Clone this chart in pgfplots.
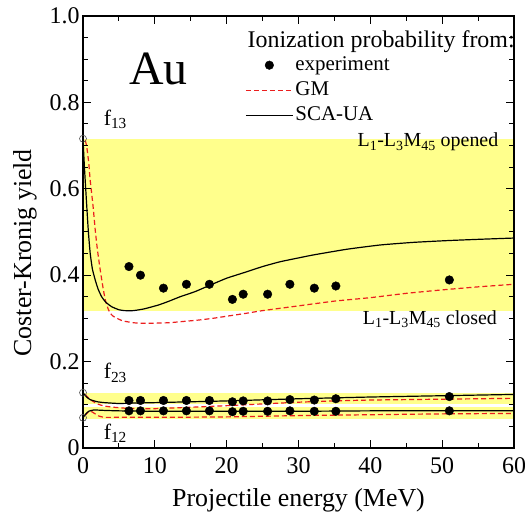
\documentclass[border=0pt]{standalone}
\usepackage{pgfplots}
\pgfplotsset{compat=1.18}
\usepackage{fontspec}
\setmainfont{Liberation Serif}
\definecolor{band}{RGB}{255,255,140}
\definecolor{gmred}{RGB}{235,30,30}
\begin{document}
\begin{tikzpicture}
\begin{axis}[
  scale only axis, width=431bp, height=432bp,
  xmin=0, xmax=60, ymin=0, ymax=1,
  xtick={0,10,...,60}, minor x tick num=1,
  ytick={0,0.2,0.4,0.6,0.8,1.0}, yticklabels={0,0.2,0.4,0.6,0.8,1.0},
  minor y tick num=3,
  /pgf/number format/assume math mode=true,
  tick label style={font=\fontsize{24}{26}\selectfont},
  xticklabel style={yshift=-6bp},
  every axis x label/.style={at={(axis description cs:0.5,-0.12)},anchor=center,font=\fontsize{26}{30}\selectfont},
  every axis y label/.style={at={(axis description cs:-0.135,0.452)},rotate=90,anchor=center,font=\fontsize{26}{30}\selectfont},
  xlabel={Projectile energy (MeV)}, ylabel={Coster-Kronig yield},
  major tick length=8bp, minor tick length=5bp,
  axis line style={line width=1.2bp},
  every tick/.style={line width=1bp, black},
  axis on top,
  legend cell align=left,
  legend style={at={(rel axis cs:0.376,0.9155)}, anchor=north west, draw=none, fill=none,
    font=\fontsize{21}{24}\selectfont, row sep=0bp, inner sep=0pt, column sep=0bp,
    nodes={text height=16bp, text depth=5bp, inner sep=2bp}},
]
% yellow bands
\addplot[fill=band, draw=none, forget plot] coordinates {(0,0.318) (60,0.318) (60,0.716) (0,0.716)} -- cycle;
\addplot[fill=band, draw=none, forget plot] coordinates {(0,0.103) (60,0.103) (60,0.128) (0,0.128)} -- cycle;
\addplot[fill=band, draw=none, forget plot] coordinates {(0,0.066) (60,0.066) (60,0.096) (0,0.096)} -- cycle;

% experiment f13
\addplot[only marks, mark=*, mark size=4.3bp, black,
  legend image code/.code={\draw[black, fill=black] (23.5bp,0bp) circle (4.3bp);}]
  coordinates {(6.4,0.420) (8.0,0.400) (11.2,0.370) (14.4,0.379) (17.6,0.379) (20.8,0.344) (22.3,0.356) (25.7,0.356) (28.8,0.379) (32.2,0.370) (35.2,0.375) (51.0,0.389)};
\addlegendentry{experiment}

% GM f13
\addplot[gmred, line width=1.2bp, dash pattern=on 5bp off 3bp, smooth, tension=0.3,
  legend image code/.code={\draw[gmred, line width=1.2bp, dash pattern=on 5bp off 3bp] (0bp,0bp) -- (47bp,0bp);}]
  coordinates {(0.3,0.712) (0.5,0.700) (0.8,0.660) (1.0,0.620) (1.4,0.560) (1.7,0.505) (2.0,0.460) (2.4,0.412) (2.8,0.370) (3.1,0.343) (3.5,0.322) (3.8,0.312) (4.2,0.305) (5.0,0.298) (5.6,0.294) (7,0.290) (8,0.289) (10,0.289) (12,0.290) (14,0.293) (16,0.296) (18,0.300) (20,0.305) (22.8,0.312) (25,0.318) (30,0.329) (35,0.340) (40,0.348) (45,0.358) (50,0.366) (55,0.373) (60,0.379)};
\addlegendentry{GM}

% SCA-UA f13
\addplot[black, line width=1.2bp, smooth, tension=0.3,
  legend image code/.code={\draw[black, line width=1.2bp] (0bp,0bp) -- (47bp,0bp);}]
  coordinates {(0,0.716) (0.2,0.650) (0.5,0.566) (0.75,0.500) (1.0,0.451) (1.3,0.415) (1.7,0.389) (2.1,0.368) (2.6,0.350) (3.2,0.337) (4.0,0.327) (5.0,0.320) (5.8,0.318) (7,0.318) (8.5,0.322) (10.5,0.331) (12,0.340) (13.5,0.350) (15.6,0.362) (17.7,0.377) (20,0.393) (22.8,0.408) (25,0.420) (27.4,0.431) (30,0.440) (32.1,0.447) (36.7,0.460) (41.4,0.470) (46,0.476) (50.6,0.480) (55,0.483) (60,0.486)};
\addlegendentry{SCA-UA}

% f23 and f12 experiment
\addplot[only marks, mark=*, mark size=4.3bp, black, forget plot]
  coordinates {(6.4,0.110) (8.0,0.110) (11.2,0.110) (14.4,0.110) (17.6,0.110) (20.8,0.107) (22.3,0.109) (25.7,0.109) (28.8,0.112) (32.2,0.111) (35.2,0.114) (51.0,0.119)};
\addplot[only marks, mark=*, mark size=4.3bp, black, forget plot]
  coordinates {(6.4,0.086) (8.0,0.086) (11.2,0.086) (14.4,0.086) (17.6,0.086) (20.8,0.084) (22.3,0.085) (25.7,0.085) (28.8,0.086) (32.2,0.085) (35.2,0.085) (51.0,0.086)};

% GM f23, f12
\addplot[gmred, line width=1.2bp, dash pattern=on 5bp off 3bp, smooth, tension=0.3, forget plot]
  coordinates {(0.3,0.124) (0.7,0.117) (1.2,0.110) (2,0.102) (3,0.097) (4.5,0.094) (6,0.092) (8,0.091) (10,0.091) (13,0.093) (16,0.095) (20,0.098) (25,0.102) (30,0.106) (35,0.109) (40,0.111) (50,0.113) (60,0.115)};
\addplot[gmred, line width=1.2bp, dash pattern=on 5bp off 3bp, smooth, tension=0.3, forget plot]
  coordinates {(0.3,0.075) (0.7,0.083) (1.1,0.085) (1.6,0.080) (2.2,0.074) (3,0.071) (5,0.071) (10,0.071) (20,0.072) (30,0.075) (40,0.077) (50,0.079) (60,0.080)};

% SCA-UA f23, f12
\addplot[black, line width=1.2bp, smooth, tension=0.3, forget plot]
  coordinates {(0,0.128) (0.5,0.118) (1,0.112) (2,0.107) (3,0.105) (5,0.103) (7,0.104) (10,0.105) (15,0.107) (20,0.109) (30,0.114) (40,0.118) (50,0.121) (60,0.124)};
\addplot[black, line width=1.2bp, smooth, tension=0.3, forget plot]
  coordinates {(0,0.070) (0.4,0.079) (0.8,0.085) (1.5,0.088) (3,0.087) (5,0.086) (10,0.085) (20,0.085) (30,0.085) (40,0.086) (50,0.086) (60,0.086)};

% open circles at E=0
\addplot[only marks, mark=o, mark size=3.5bp, black!70, line width=0.6bp, forget plot]
  coordinates {(0,0.716) (0,0.128) (0,0.070)};

% text
\node[anchor=west, font=\fontsize{24}{26}\selectfont] at (rel axis cs:0.374,0.94) {Ionization probability from:};
\node[font=\fontsize{48}{48}\selectfont] at (axis cs:10.5,0.877) {Au};
\node[anchor=west, font=\fontsize{22}{24}\selectfont] at (axis cs:2.4,0.76) {f$_{\mathrm{13}}$};
\node[anchor=west, font=\fontsize{22}{24}\selectfont] at (axis cs:2.4,0.174) {f$_{\mathrm{23}}$};
\node[anchor=west, font=\fontsize{22}{24}\selectfont] at (axis cs:2.4,0.035) {f$_{\mathrm{12}}$};
\node[anchor=east, font=\fontsize{20}{22}\selectfont] at (axis cs:58.3,0.708) {L$_{\mathrm{1}}$-L$_{\mathrm{3}}$M$_{\mathrm{45}}$ opened};
\node[anchor=east, font=\fontsize{20}{22}\selectfont] at (axis cs:58.1,0.298) {L$_{\mathrm{1}}$-L$_{\mathrm{3}}$M$_{\mathrm{45}}$ closed};
\end{axis}
\pgfresetboundingbox
\path ([shift={(-83bp,-66bp)}]current axis.south west) rectangle ([shift={(11bp,16bp)}]current axis.north east);
\end{tikzpicture}
\end{document}
